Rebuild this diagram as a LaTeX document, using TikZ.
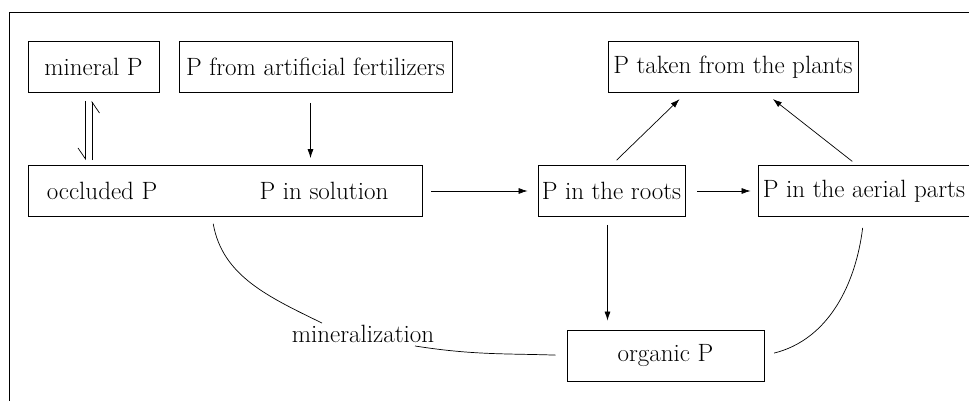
\documentclass[tikz,border=0pt]{standalone}
\usepackage{tikz}
\usetikzlibrary{arrows.meta}

\begin{document}
\begin{tikzpicture}[x=1pt, y=1pt,
    font=\fontsize{25}{29}\selectfont,
    pbox/.style={draw, line width=0.8pt, inner sep=0pt, minimum height=51},
    flow/.style={line width=0.7pt, -{Latex[length=9pt, width=6pt]}},
    harp/.style={line width=0.7pt, -{Straight Barb[right, length=11pt, width=15pt, line width=0.7pt]}},
    link/.style={line width=0.7pt}]

  \clip (0, 0) rectangle (969, 400);
  \useasboundingbox (0, 0) rectangle (969, 400);

  % outer frame, cut at right and bottom
  \draw[line width=0.8pt] (9, -20) rectangle (990, 388);

  % top row
  \node[pbox, minimum width=131] (mineral) at (93.5, 333) {mineral P};
  \node[pbox, minimum width=273] (fert) at (315.5, 333) {P from artificial fertilizers};
  \node[pbox, minimum width=250] (taken) at (733, 333) {P taken from the plants};

  % middle row
  \node[pbox, minimum width=394] (soil) at (225, 209) {};
  \node (occluded) at (102, 209) {occluded P};
  \node (solution) at (324, 209) {P in solution};
  \node[pbox, minimum width=147] (roots) at (611.5, 209) {P in the roots};
  \node[pbox, minimum width=212] (aerial) at (864, 209) {P in the aerial parts};

  % bottom row
  \node[pbox, minimum width=197] (organic) at (665.5, 44.5) {organic P};
  \node[inner sep=2pt] (minlabel) at (363, 66) {mineralization};

  % exchange mineral <-> occluded
  \draw[harp, shorten <=8pt, shorten >=5pt]
    ([xshift=-8pt]mineral.south) -- ([xshift=-8pt]mineral.south |- soil.north);
  \draw[harp, shorten <=5pt, shorten >=8pt]
    ([xshift=-1.5pt]mineral.south |- soil.north) -- ([xshift=-1.5pt]mineral.south);

  % straight flows
  \draw[flow, shorten <=10pt, shorten >=7pt] ([xshift=-5pt]fert.south) -- ([xshift=-5pt]fert.south |- soil.north);
  \draw[flow, shorten <=9pt, shorten >=10pt] (soil.east) -- (roots.west);
  \draw[flow, shorten <=12pt, shorten >=7pt] (roots.east) -- (aerial.west);
  \draw[flow, shorten <=7pt, shorten >=9pt] (roots.north) -- ([xshift=-47pt]taken.south);
  \draw[flow, shorten <=6pt, shorten >=10pt] ([xshift=-7pt]aerial.north) -- ([xshift=32pt]taken.south);
  \draw[flow, shorten <=8pt, shorten >=9pt] ([xshift=-4pt]roots.south) -- ([xshift=-4pt]roots.south |- organic.north);

  % cycle through organic P
  \draw[link, shorten <=7pt] ([xshift=-13pt]soil.south) to[out=-80, in=154] ([xshift=-41pt]minlabel.north);
  \draw[link, shorten >=11pt] ([xshift=52pt, yshift=-1pt]minlabel.south) to[out=-9, in=178] (organic.west);
  \draw[link, shorten <=10pt, shorten >=11pt] (organic.east) to[out=14, in=-97] (aerial.south);

\end{tikzpicture}
\end{document}
